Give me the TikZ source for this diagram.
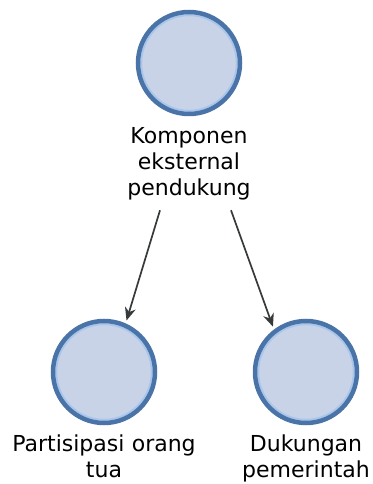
\documentclass[tikz,border=0pt]{standalone}
\usepackage{fontspec}
\setmainfont{DejaVu Sans}
\usepackage{tikz}
\usetikzlibrary{positioning, arrows.meta}
\definecolor{ringblue}{RGB}{74,116,168}
\definecolor{innerblue}{RGB}{168,198,236}
\definecolor{fillblue}{RGB}{200,211,231}
\definecolor{arrowgray}{RGB}{55,58,58}

\begin{document}
\begin{tikzpicture}[x=1pt, y=1pt]
			\tikzstyle{factor}=[
			draw=ringblue,
			fill=fillblue,
			circle,
			line width=4.5pt,
			minimum size=102pt,
			path picture={\draw[innerblue, line width=2pt] (path picture bounding box.center) circle (47.8pt);}
			]
			\tikzstyle{caption}=[
			inner sep=0pt,
			text width=200pt,
			align=center,
			font=\fontsize{22}{26}\selectfont
			]
			\tikzstyle{link}=[
			draw=arrowgray,
			line width=1.7pt,
			-{Stealth[length=13pt,width=11pt]},
			shorten >=3pt
			]
			\useasboundingbox (0,0) rectangle (372,484);
			\node[factor] (TOP) at (189,421) {};
			\node[caption, below=11pt of TOP] (TOPLBL) {Komponen\\eksternal\\pendukung};
			\node[factor] (PARENT) at (104,112) {};
			\node[caption, below=9pt of PARENT] (PARENTLBL) {Partisipasi orang\\tua};
			\node[factor] (GOV) at (306,112) {};
			\node[caption, below=9pt of GOV] (GOVLBL) {Dukungan\\pemerintah};
			\path[link] ([shift={(-29pt,-10pt)}]TOPLBL.south) -- (PARENT.66);
			\path[link] ([shift={(42pt,-10pt)}]TOPLBL.south) -- (GOV.127);
			%\node[draw=red, fit=(TOP)] {};
		\end{tikzpicture}
\end{document}
